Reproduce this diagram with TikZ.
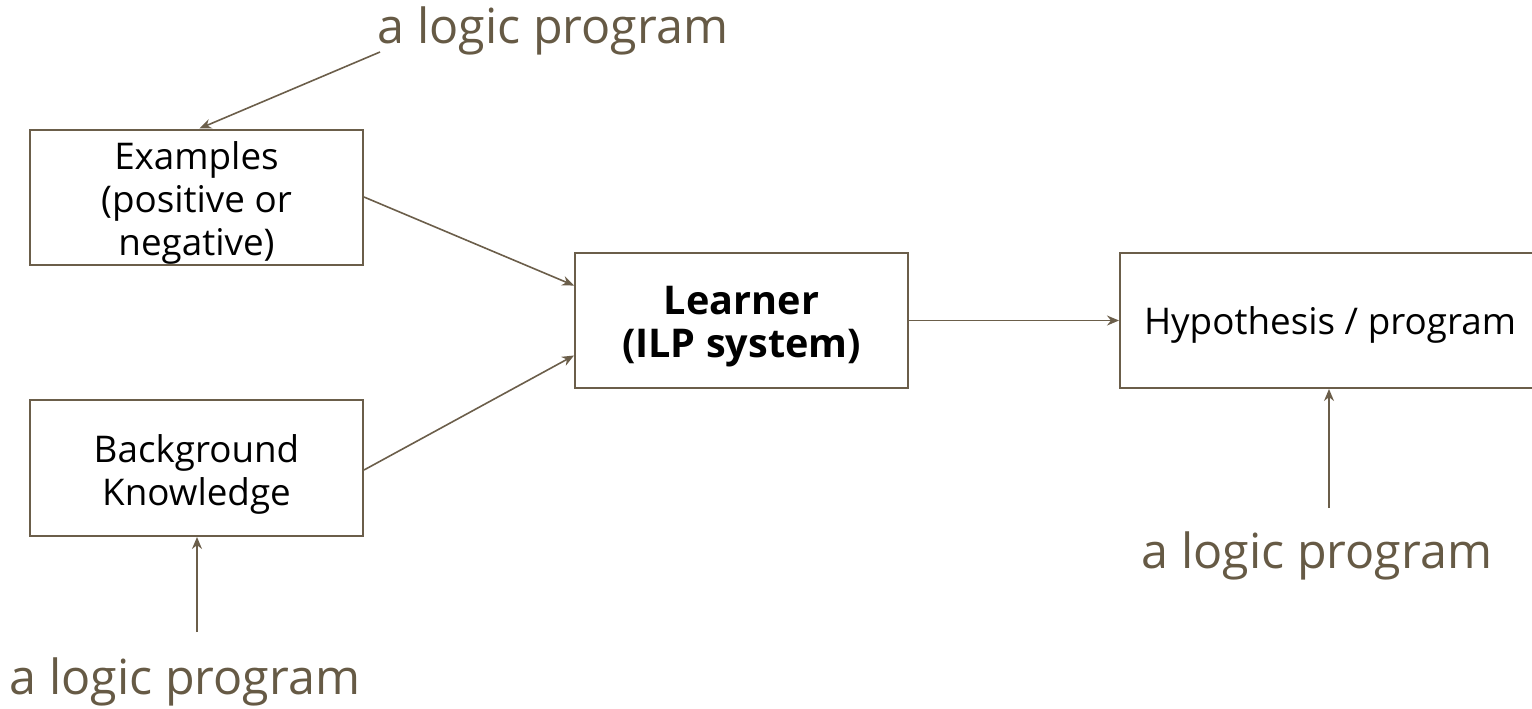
\documentclass[tikz,border=0pt]{standalone}
\usepackage{fontspec}
\setmainfont{Open Sans}
\usetikzlibrary{arrows.meta}
\definecolor{linebrown}{HTML}{6B5E4A}
\definecolor{notebrown}{HTML}{665A45}
\tikzset{
  box/.style={draw=linebrown, line width=1pt, fill=white, inner sep=0pt},
  boxtext/.style={align=center, inner sep=0pt, font=\fontsize{18.4}{21.5}\selectfont},
  boldtext/.style={boxtext, font=\fontsize{19.8}{21.5}\selectfont\bfseries},
  note/.style={text=notebrown, font=\fontsize{24.2}{28}\selectfont, inner sep=0pt},
  link/.style={draw=linebrown, line width=0.8pt, -{Stealth[length=6pt,width=5pt]}}
}
\begin{document}
\begin{tikzpicture}[x=0.5pt,y=-0.5pt]
  \useasboundingbox (0,0) rectangle (1532,708);
  \clip (0,0) rectangle (1532,708);
  % boxes
  \node[box, minimum width=166.5pt, minimum height=67.5pt] (ex) at (196.5,197) {};
  \node[box, minimum width=166.5pt, minimum height=68pt] (bk) at (196.5,468) {};
  \node[box, minimum width=166.5pt, minimum height=67.5pt] (lr) at (741.5,320.5) {};
  \node[box, minimum width=210pt, minimum height=67.5pt] (hy) at (1330,320.5) {};
  % box contents
  \node[boxtext] (ext) at ([yshift=-3pt]ex.center) {Examples\\(positive or\\negative)};
  \node[boxtext] (bkt) at ([yshift=-3pt]bk.center) {Background\\Knowledge};
  \node[boldtext] (lrt) at ([yshift=-3pt]lr.center) {Learner\\(ILP system)};
  \node[boxtext] (hyt) at ([yshift=-2pt]hy.center) {Hypothesis / program};
  % annotations
  \node[note] (t1) at (553,31) {a logic program};
  \node[note] (t2) at (185,682) {a logic program};
  \node[note] (t3) at (1317,556) {a logic program};
  \coordinate (t1a) at (380,52);
  \coordinate (t2a) at (197,632);
  \coordinate (t3a) at (1329,508);
  % connectors
  \draw[link] (t1a) -- ([xshift=1.5pt]ex.north);
  \draw[link] (ex.east) -- ([yshift=17.5pt]lr.west);
  \draw[link] ([yshift=-1pt]bk.east) -- ([yshift=-17.5pt]lr.west);
  \draw[link] (lr.east) -- (hy.west);
  \draw[link] (t2a) -- (bk.south -| t2a);
  \draw[link] (t3a) -- (hy.south -| t3a);
\end{tikzpicture}
\end{document}
